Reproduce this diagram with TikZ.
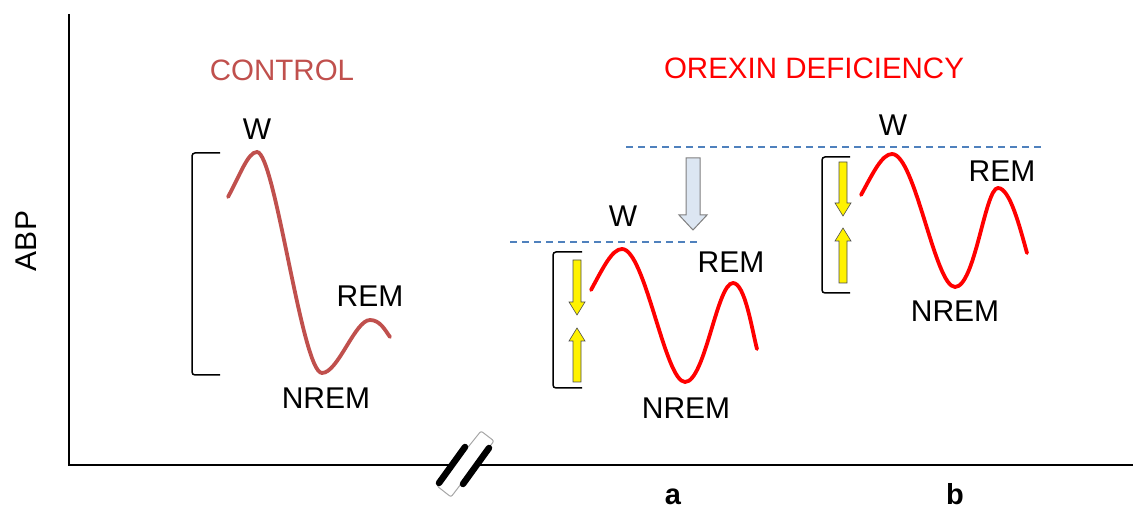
\documentclass[tikz,border=0pt]{standalone}
\usepackage{fontspec}
\setmainfont{Liberation Sans}
\definecolor{ctrl}{HTML}{C0504D}
\definecolor{orx}{HTML}{FF0000}
\definecolor{dash}{HTML}{4F81BD}
\definecolor{bigfill}{HTML}{DCE6F2}
\definecolor{bigline}{HTML}{7F7F7F}
\begin{document}
\begin{tikzpicture}[x=1pt,y=-1pt,
  lbl/.style={inner sep=0pt,font=\fontsize{30}{36}\selectfont},
  ttl/.style={inner sep=0pt,font=\fontsize{29.5}{36}\selectfont},
  sub/.style={inner sep=0pt,font=\fontsize{29}{34}\selectfont\bfseries},
  ctrlcurve/.style={draw=ctrl,line width=3.8pt,line cap=round},
  orxcurve/.style={draw=orx,line width=3.8pt,line cap=round},
  brk/.style={draw=black,line width=1.5pt,rounded corners=3pt},
  lvl/.style={draw=dash,line width=1.6pt,dash pattern=on 7pt off 5pt},
  yarrow/.style={fill=yellow,draw=black!70,line width=0.6pt},
  bigarrow/.style={fill=bigfill,draw=bigline,line width=1pt},
  axis/.style={draw=black,line width=1.8pt}]
\useasboundingbox (0,0) rectangle (1133,510);

% axes
\coordinate (ytop) at (69,14);
\coordinate (orig) at (69,465);
\coordinate (xend) at (1133,465);
\draw[axis] (ytop) -- (orig) -- (xend);
\node[lbl,rotate=90] (abp) at (26,241) {ABP};

% axis break
\draw[fill=white,draw=black!35,line width=1pt,rounded corners=2pt]
  (437,486) -- (481,431) -- (494,441) -- (451,497) -- cycle;
\draw[line width=6.5pt,line cap=round] (439,483) -- (465,447);
\draw[line width=6.5pt,line cap=round] (463,484) -- (489,448);

% titles
\node[ttl,text=ctrl] (tctrl) at (282,70) {CONTROL};
\node[ttl,text=orx] (torx) at (814,68) {OREXIN DEFICIENCY};

% ---------- control ----------
\draw[brk] (220,153) -- (192,153) -- (192,375) -- (220,375);
\draw[ctrlcurve] (228,197) .. controls (240,175) and (248,152) .. (257,152)
  .. controls (275,152) and (302,373) .. (322,373)
  .. controls (338,373) and (355,320) .. (370,320)
  .. controls (380,320) and (385,330) .. (390,337);
\node[lbl] (cw) at (257,129) {W};
\node[lbl] (crem) at (370,296) {REM};
\node[lbl] (cnrem) at (326,398) {NREM};

% ---------- orexin a ----------
\draw[lvl] (510,242) -- (700,242);
\draw[lvl] (626,147) -- (1045,147);
\draw[bigarrow] (686,158) -- (700,158) -- (700,215) -- (707,215) -- (693,230)
  -- (679,215) -- (686,215) -- cycle;
\draw[brk] (582,252) -- (553,252) -- (553,388) -- (582,388);
\draw[yarrow] (573,260) -- (581,260) -- (581,302) -- (585,302) -- (577,315)
  -- (569,302) -- (573,302) -- cycle;
\draw[yarrow] (573,382) -- (581,382) -- (581,341) -- (585,341) -- (577,328)
  -- (569,341) -- (573,341) -- cycle;
\draw[orxcurve] (591,290) .. controls (603,268) and (612,249) .. (622,249)
  .. controls (645,249) and (665,382) .. (685,382)
  .. controls (705,382) and (717,283) .. (733,283)
  .. controls (745,283) and (752,330) .. (757,349);
\node[lbl] (aw) at (623,216) {W};
\node[lbl] (arem) at (731,262) {REM};
\node[lbl] (anrem) at (686,408) {NREM};
\node[sub] (la) at (673,497) {a};

% ---------- orexin b ----------
\draw[brk] (850,157) -- (822,157) -- (822,293) -- (850,293);
\draw[yarrow] (839,162) -- (847,162) -- (847,203) -- (851,203) -- (843,216)
  -- (835,203) -- (839,203) -- cycle;
\draw[yarrow] (839,283) -- (847,283) -- (847,241) -- (851,241) -- (843,228)
  -- (835,241) -- (839,241) -- cycle;
\draw[orxcurve] (861,195) .. controls (873,173) and (882,154) .. (892,154)
  .. controls (915,154) and (935,287) .. (955,287)
  .. controls (975,287) and (985,188) .. (998,188)
  .. controls (1010,188) and (1020,228) .. (1027,253);
\node[lbl] (bw) at (893,125) {W};
\node[lbl] (brem) at (1002,171) {REM};
\node[lbl] (bnrem) at (955,311) {NREM};
\node[sub] (lb) at (955,494) {b};
\end{tikzpicture}
\end{document}
